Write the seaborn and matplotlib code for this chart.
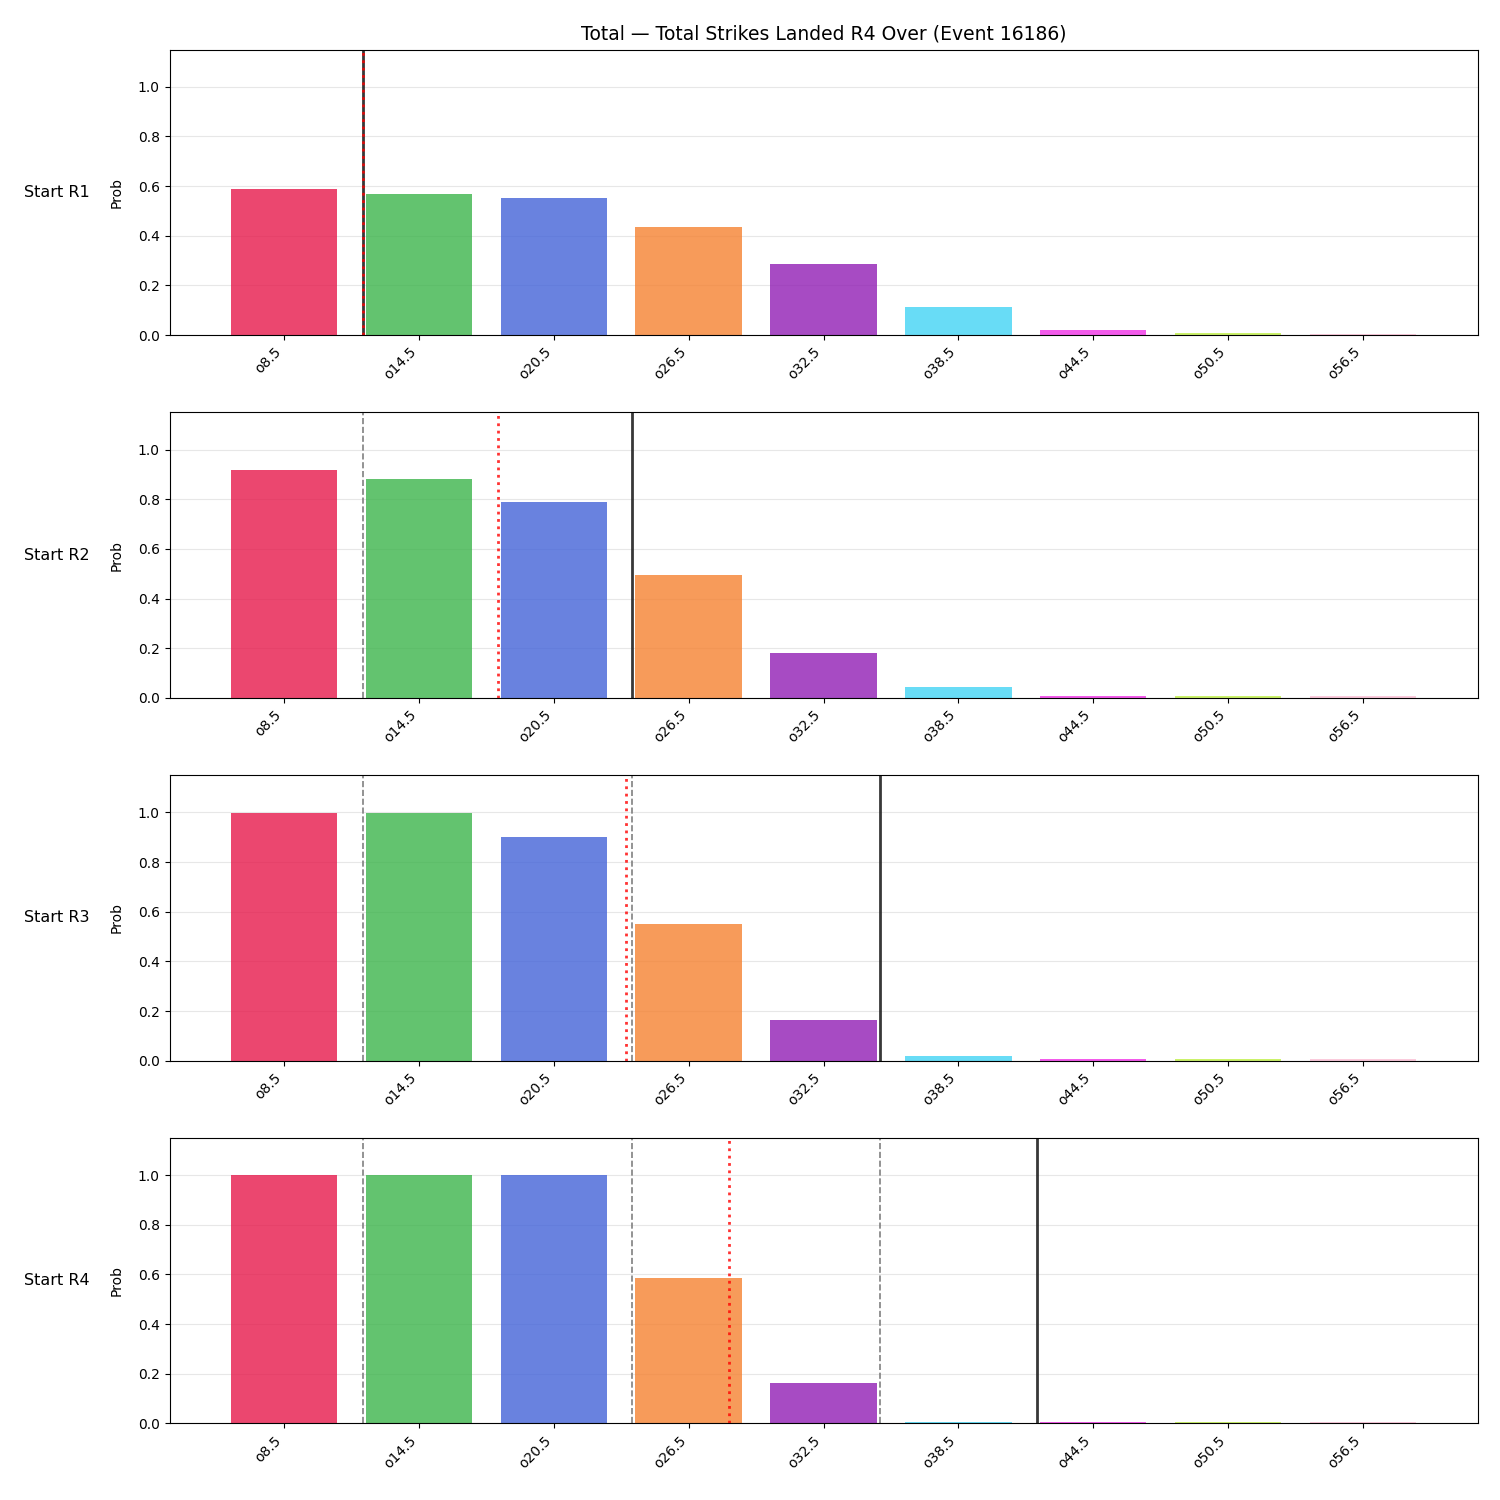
import numpy as np
import matplotlib
matplotlib.use("Agg")
import matplotlib.pyplot as plt
import seaborn as sns

labels = ["o8.5", "o14.5", "o20.5", "o26.5", "o32.5", "o38.5", "o44.5", "o50.5", "o56.5"]
line_values = [8.5, 14.5, 20.5, 26.5, 32.5, 38.5, 44.5, 50.5, 56.5]
rounds = ["Start R1", "Start R2", "Start R3", "Start R4"]
probs_r1 = [0.589, 0.569, 0.552, 0.435, 0.286, 0.113, 0.020, 0.007, 0.006]
probs_r2 = [0.919, 0.883, 0.790, 0.496, 0.181, 0.044, 0.008, 0.007, 0.006]
probs_r3 = [0.999, 0.998, 0.899, 0.552, 0.165, 0.020, 0.007, 0.006, 0.006]
probs_r4 = [1.000, 1.000, 0.999, 0.587, 0.162, 0.006, 0.006, 0.005, 0.005]
# strikes landed at start of each round, and projected total
current_strikes = [12, 24, 35, 42]
projected = [12, 18, 23.7, 28.3]

colors = ["#e6194b", "#3cb44b", "#4363d8", "#f58231", "#911eb4",
          "#42d4f4", "#f032e6", "#bfef45", "#fabed4"]

all_probs = [probs_r1, probs_r2, probs_r3, probs_r4]


def to_pos(s):
    # map a strike count onto the categorical axis
    return np.interp(s, line_values, np.arange(len(line_values)))


fig, axes = plt.subplots(4, 1, figsize=(15, 15), dpi=100)
for i, ax in enumerate(axes):
    sns.barplot(x=labels, y=all_probs[i], hue=labels, palette=colors,
                legend=False, ax=ax, alpha=0.8, width=0.79, saturation=1)
    for j in range(i):
        ax.axvline(to_pos(current_strikes[j]), color="gray", linestyle="--", linewidth=1.2)
    ax.axvline(to_pos(current_strikes[i]), color="#222222", linewidth=2, alpha=0.9)
    ax.axvline(to_pos(projected[i]), color="red", linestyle=":", linewidth=2, alpha=0.8)
    ax.set_ylim(0, 1.15)
    ax.set_xlim(-0.85, 8.85)
    ax.set_ylabel("Prob", labelpad=10)
    ax.set_xlabel("")
    ax.grid(axis="y", alpha=0.3)
    ax.set_axisbelow(True)
    ax.set_xticks(range(len(labels)))
    ax.set_xticklabels(labels, rotation=45, ha="right")
    ax.text(-0.086, 0.5, rounds[i], transform=ax.transAxes, ha="center",
            va="center", fontsize=11.5)

axes[0].set_title("Total — Total Strikes Landed R4 Over (Event 16186)", fontsize=13.5, pad=7)
plt.subplots_adjust(left=0.113, right=0.985, top=0.967, bottom=0.051, hspace=0.27)
plt.savefig("out.png")
